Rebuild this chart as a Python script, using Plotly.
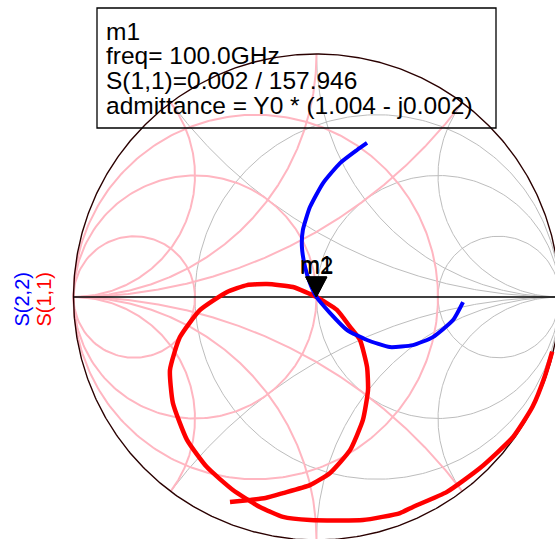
import numpy as np
import plotly.graph_objects as go

# ---- measured reflection coefficients (real / imaginary parts) ----
s11_re = [-0.356, -0.274, -0.210, -0.138, -0.027, 0.056, 0.138, 0.191, 0.212, 0.208,
          0.179, 0.138, 0.084, -0.002, -0.097, -0.204, -0.286, -0.368, -0.479, -0.562,
          -0.603, -0.591, -0.533, -0.451, -0.344, -0.233, -0.138, -0.027, 0.191, 0.344,
          0.397, 0.537, 0.673, 0.809, 0.889, 0.940, 0.970]
s11_im = [-0.844, -0.835, -0.827, -0.807, -0.774, -0.724, -0.630, -0.506, -0.383, -0.288,
          -0.177, -0.123, -0.053, 0.001, 0.041, 0.053, 0.049, 0.021, -0.053, -0.165,
          -0.300, -0.436, -0.588, -0.700, -0.794, -0.864, -0.905, -0.918, -0.918, -0.889,
          -0.864, -0.802, -0.704, -0.576, -0.452, -0.325, -0.225]

s22_re = [0.208, 0.167, 0.097, 0.027, -0.027, -0.056, -0.060, -0.047, -0.027, 0.000,
          0.056, 0.126, 0.208, 0.302, 0.397, 0.479, 0.562, 0.603]
s22_im = [0.634, 0.605, 0.551, 0.469, 0.370, 0.276, 0.206, 0.123, 0.058, 0.000,
          -0.066, -0.136, -0.177, -0.206, -0.198, -0.165, -0.095, -0.021]

# marker m1 on S(1,1): magnitude / angle (deg) at 100 GHz
m1_mag, m1_ang = 0.002, 157.946
m1_freq = "100.0GHz"
m1_adm = "(1.004 - j0.002)"
# marker m2 on S(2,2)
m2_re, m2_im = 0.0, 0.0

# Smith chart grid values
res_vals = [1 / 3, 1.0, 3.0]
reac_vals = [0.5, 1.0, 2.0]

W, H = 555, 539
CX, CY, R = 316.5, 297.0, 243.0   # chart centre / radius in pixels


def px(x):
    return x / W


def py(y):
    return 1 - y / H


def gamma_of(z):
    return (z - 1) / (z + 1)


def r_circle(r):
    t = np.tan(np.linspace(-np.pi / 2 + 1e-4, np.pi / 2 - 1e-4, 400))
    g = gamma_of(r + 1j * t)
    g = np.append(g, 1 + 0j)
    g = np.insert(g, 0, 1 + 0j)
    return g


def x_arc(x):
    s = np.tan(np.linspace(0, np.pi / 2 - 1e-4, 300))
    g = gamma_of(s + 1j * x)
    return np.append(g, 1 + 0j)


fig = go.Figure()

GRAY = "#bdbdbd"
PINK = "#ffb6c1"

# impedance grid (gray)
for r in res_vals:
    g = r_circle(r)
    fig.add_trace(go.Scatter(x=g.real, y=g.imag, mode="lines",
                             line=dict(color=GRAY, width=1), hoverinfo="skip", showlegend=False))
for xv in reac_vals:
    for sgn in (1, -1):
        g = x_arc(sgn * xv)
        fig.add_trace(go.Scatter(x=g.real, y=g.imag, mode="lines",
                                 line=dict(color=GRAY, width=1), hoverinfo="skip", showlegend=False))

# admittance grid (pink) = impedance grid rotated by 180 degrees
for r in res_vals:
    g = -r_circle(r)
    fig.add_trace(go.Scatter(x=g.real, y=g.imag, mode="lines",
                             line=dict(color=PINK, width=2), hoverinfo="skip", showlegend=False))
for xv in reac_vals:
    for sgn in (1, -1):
        g = -x_arc(sgn * xv)
        fig.add_trace(go.Scatter(x=g.real, y=g.imag, mode="lines",
                                 line=dict(color=PINK, width=2), hoverinfo="skip", showlegend=False))

# outer unit circle and real axis
th = np.linspace(0, 2 * np.pi, 721)
fig.add_trace(go.Scatter(x=np.cos(th), y=np.sin(th), mode="lines",
                         line=dict(color="#2a0000", width=1.4), hoverinfo="skip", showlegend=False))
fig.add_trace(go.Scatter(x=[-1, 1], y=[0, 0], mode="lines",
                         line=dict(color="black", width=1.6), hoverinfo="skip", showlegend=False))

# measured traces
fig.add_trace(go.Scatter(x=s11_re, y=s11_im, mode="lines", name="S(1,1)",
                         line=dict(color="#ff0000", width=4.5, shape="spline", smoothing=0.5),
                         showlegend=False))
fig.add_trace(go.Scatter(x=s22_re, y=s22_im, mode="lines", name="S(2,2)",
                         line=dict(color="#0000ff", width=4, shape="spline", smoothing=0.5),
                         showlegend=False))

# marker position from its polar readout
m1_re = m1_mag * np.cos(np.radians(m1_ang))
m1_im = m1_mag * np.sin(np.radians(m1_ang))

shapes = [
    # marker triangles (tip on the data point)
    dict(type="path", xref="x", yref="y", xsizemode="pixel", ysizemode="pixel",
         xanchor=m2_re, yanchor=m2_im, path="M -10.5 20 L 10.5 20 L 0 0 Z",
         fillcolor="black", line=dict(color="black", width=1)),
    dict(type="path", xref="x", yref="y", xsizemode="pixel", ysizemode="pixel",
         xanchor=m1_re, yanchor=m1_im, path="M -10.5 20 L 10.5 20 L 0 0 Z",
         fillcolor="black", line=dict(color="black", width=1)),
    # readout box
    dict(type="rect", xref="paper", yref="paper", x0=px(97), x1=px(496), y0=py(8), y1=py(128),
         line=dict(color="black", width=1.3), fillcolor="rgba(0,0,0,0)"),
]

FONT = "Liberation Sans, Arial, sans-serif"
ann = []
box_lines = ["m1", "freq= " + m1_freq, "S(1,1)=%.3f / %.3f" % (m1_mag, m1_ang),
             "admittance = Y0 * " + m1_adm]
for i, txt in enumerate(box_lines):
    ann.append(dict(text=txt, xref="paper", yref="paper", x=px(104), y=py(31 + 24.7 * i),
                    xanchor="left", yanchor="middle", showarrow=False,
                    font=dict(family=FONT, size=24.5, color="black")))

for name, (mx, my) in (("m2", (m2_re, m2_im)), ("m1", (m1_re, m1_im))):
    ann.append(dict(text=name, x=mx, y=my, xref="x", yref="y", yshift=32,
                    xanchor="center", yanchor="middle", showarrow=False,
                    font=dict(family=FONT, size=24, color="black")))

ann.append(dict(text="S(2,2)", xref="paper", yref="paper", x=px(21), y=py(299.5),
                textangle=-90, showarrow=False, xanchor="center", yanchor="middle",
                font=dict(family=FONT, size=20, color="#0000ff")))
ann.append(dict(text="S(1,1)", xref="paper", yref="paper", x=px(43), y=py(299.5),
                textangle=-90, showarrow=False, xanchor="center", yanchor="middle",
                font=dict(family=FONT, size=20, color="#ff0000")))

fig.update_layout(
    width=W, height=H,
    margin=dict(l=0, r=0, t=0, b=0),
    paper_bgcolor="white", plot_bgcolor="white",
    xaxis=dict(range=[-CX / R, (W - CX) / R], visible=False, fixedrange=True),
    yaxis=dict(range=[(CY - H) / R, CY / R], visible=False, fixedrange=True),
    shapes=shapes, annotations=ann, showlegend=False,
)

fig.write_html("out.html")
